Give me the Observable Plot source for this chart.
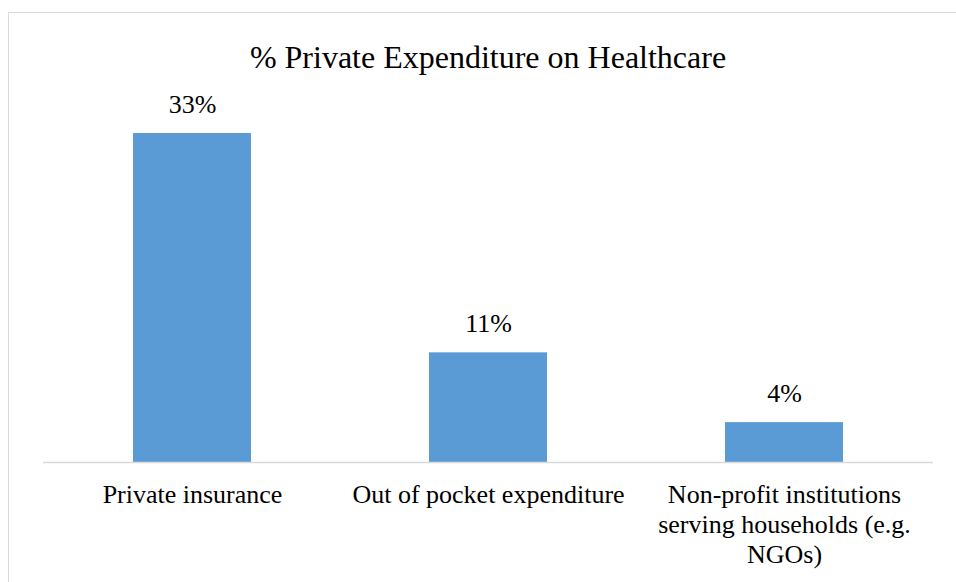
<!DOCTYPE html>
<html>
<head>
<meta charset="utf-8">
<script src="https://cdn.jsdelivr.net/npm/d3@7"></script>
<script src="https://cdn.jsdelivr.net/npm/@observablehq/plot@0.6"></script>
<style>
  html, body { margin: 0; padding: 0; background: #fff; }
  body { width: 956px; height: 582px; overflow: hidden; position: relative; font-family: "Liberation Serif", "Times New Roman", serif; }
  #frame { position: absolute; left: 8px; top: 12px; width: 1200px; height: 1200px; border-left: 1.5px solid #d9d9d9; border-top: 1.5px solid #d9d9d9; box-sizing: border-box; }
  #wrap { position: absolute; left: 0; top: 0; width: 956px; }
  #title { box-sizing: border-box; height: 90px; padding-top: 41px; line-height: 32px; font-size: 32px; color: #000; margin-left: 43px; width: 890px; text-align: center; white-space: nowrap; font-family: "Liberation Serif", "Times New Roman", serif; }
  svg { display: block; }
  svg text { font-family: "Liberation Serif", "Times New Roman", serif !important; }
</style>
</head>
<body>
<div id="frame"></div>
<div id="wrap">
  <div id="title">% Private Expenditure on Healthcare</div>
  <div id="chart"></div>
</div>
<script>
const categories = ["Private insurance", "Out of pocket expenditure", "Non-profit institutions\nserving households (e.g.\nNGOs)"];
const values = [33, 11, 4];
const valueLabels = ["33%", "11%", "4%"];

const data = categories.map((c, i) => ({category: c, value: values[i], label: valueLabels[i]}));
const serif = "Liberation Serif";

const chart = Plot.plot({
  width: 956,
  height: 492,
  marginLeft: 43,
  marginRight: 23,
  marginTop: 43,
  marginBottom: 120,
  style: {fontFamily: serif, color: "#000", background: "transparent"},
  x: {domain: categories, paddingInner: 0.6, paddingOuter: 0.3},
  y: {domain: [0, 33], axis: null},
  marks: [
    Plot.barY(data, {x: "category", y: "value", fill: "#5b9bd5"}),
    Plot.ruleY([0], {stroke: "#d9d9d9", strokeWidth: 1.5}),
    Plot.text(data, {x: "category", y: "value", text: "label", lineAnchor: "bottom", dy: -21, fontSize: 26, fontFamily: serif, fill: "#000"}),
    Plot.axisX({tickSize: 0, tickPadding: 19, fontSize: 26, fontFamily: serif, lineHeight: 1.15, label: null, fill: "#000"})
  ]
});
document.getElementById("chart").appendChild(chart);
</script>
</body>
</html>
